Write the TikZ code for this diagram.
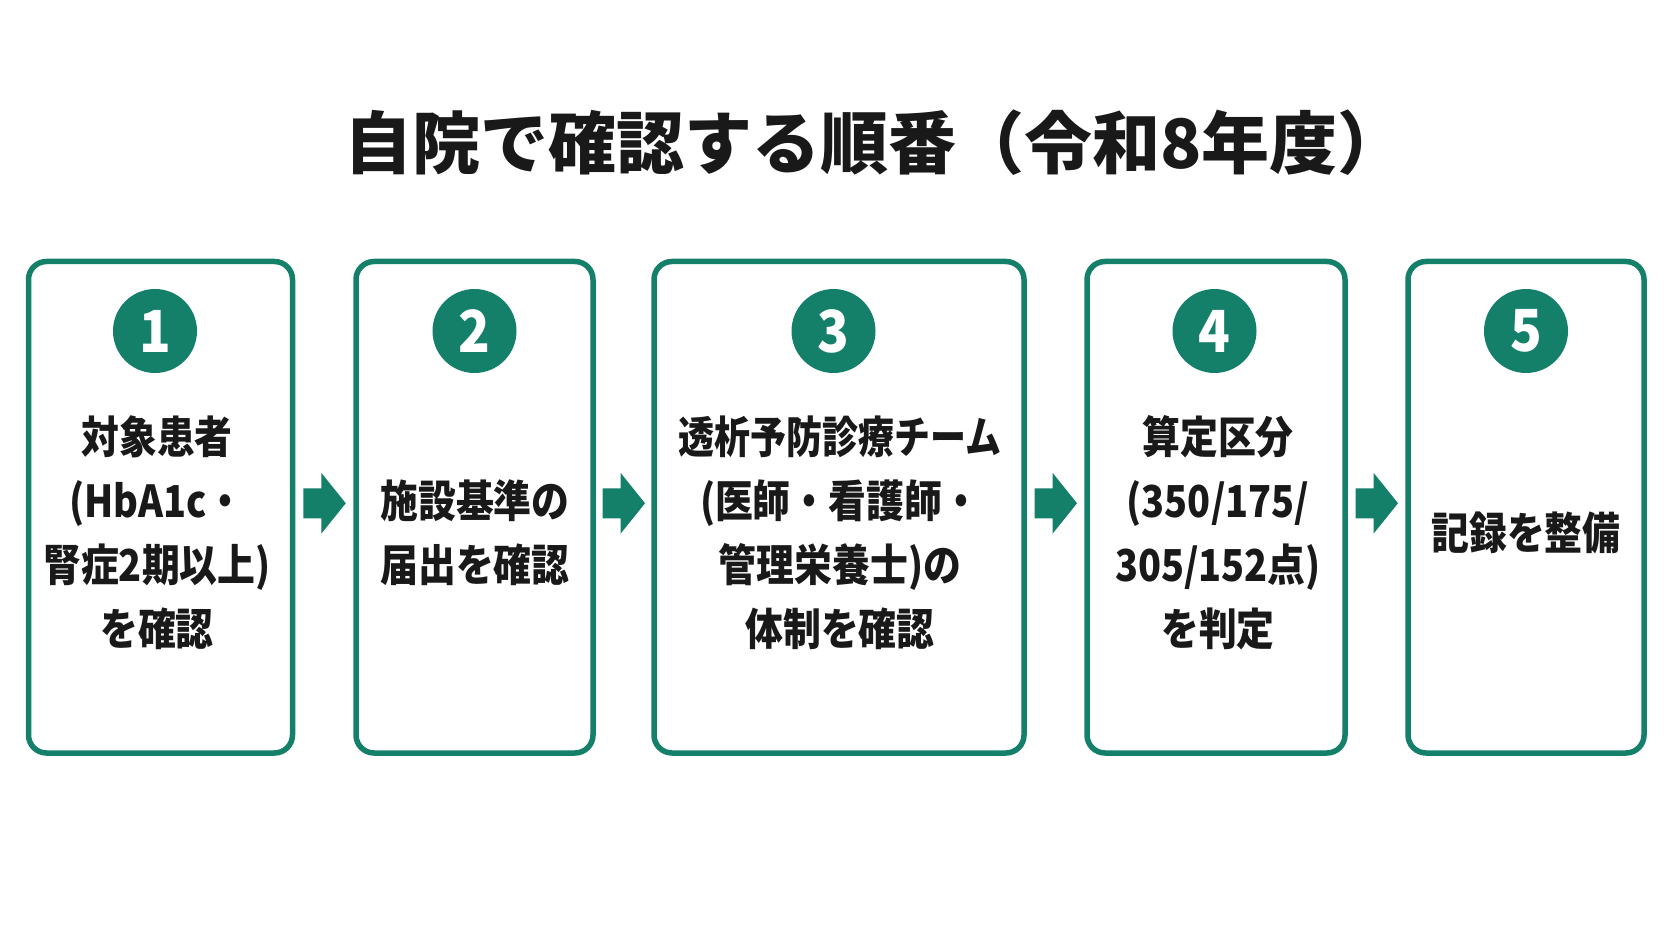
\documentclass[tikz,border=0pt]{standalone}
\usepackage{fontspec}
\usepackage{graphicx}
\setmainfont{Noto Sans CJK JP}
\newfontfamily\condfont{Noto Sans CJK JP}[FakeStretch=0.86]
\newfontfamily\numfont{Noto Sans CJK JP}[FakeStretch=0.9]
\usetikzlibrary{calc}
\definecolor{teal1}{HTML}{15806A}
\tikzset{
  stepbox/.style={draw=teal1, line width=5.5pt, rounded corners=18pt, fill=white, inner sep=0pt},
  numcirc/.style={circle, fill=teal1, minimum size=84pt, inner sep=0pt, text=white, font=\numfont\fontsize{58}{60}\selectfont\bfseries},
  steptext/.style={align=center, inner sep=0pt, text=black!90, font=\condfont\fontsize{44}{64}\selectfont\bfseries},
  titletext/.style={inner sep=0pt, text=black!90, font=\fontsize{68}{72}\selectfont\bfseries},
  blockarrow/.style={fill=teal1}
}
\begin{document}
\begin{tikzpicture}[x=1pt, y=-1pt]
\useasboundingbox[fill=white] (0,0) rectangle (1672,941);

\node[titletext] (title) at (875,143) {自院で確認する順番（令和8年度）};

\node[stepbox, minimum width=264pt, minimum height=491.5pt] (b1) at (160.5,507.25) {};
\node[stepbox, minimum width=237pt, minimum height=491.5pt] (b2) at (474.5,507.25) {};
\node[stepbox, minimum width=370pt, minimum height=491.5pt] (b3) at (839,507.25) {};
\node[stepbox, minimum width=258pt, minimum height=491.5pt] (b4) at (1216,507.25) {};
\node[stepbox, minimum width=236pt, minimum height=491.5pt] (b5) at (1526,507.25) {};

\node[numcirc] (n1) at (155,331) {1};
\node[numcirc] (n2) at (474.5,331) {2};
\node[numcirc] (n3) at (833.5,331) {3};
\node[numcirc] (n4) at (1214.5,331) {4};
\node[numcirc] (n5) at (1526,331) {5};

\node[steptext] (t1) at (157,533) {対象患者\\(HbA1c・\\腎症2期以上)\\を確認};
\node[steptext] (t2) at (475,533) {施設基準の\\届出を確認};
\node[steptext] (t3) at (840,533) {\scalebox{0.95}[1]{透析予防診療チーム}\\(医師・看護師・\\管理栄養士)の\\体制を確認};
\node[steptext] (t4) at (1218,533) {算定区分\\(350/175/\\305/152点)\\を判定};
\node[steptext] (t5) at (1526,533) {記録を整備};

\foreach \a/\b [count=\i] in {b1/b2, b2/b3, b3/b4, b4/b5} {
  \coordinate (a\i) at ($(\a.east)!0.5!(\b.west)+(0,-4)$);
  \fill[blockarrow, shift={(a\i)}] (-21,-15) -- (-3,-15) -- (-3,-30.5) -- (21.5,0) -- (-3,30.5) -- (-3,15) -- (-21,15) -- cycle;
}
\end{tikzpicture}
\end{document}
